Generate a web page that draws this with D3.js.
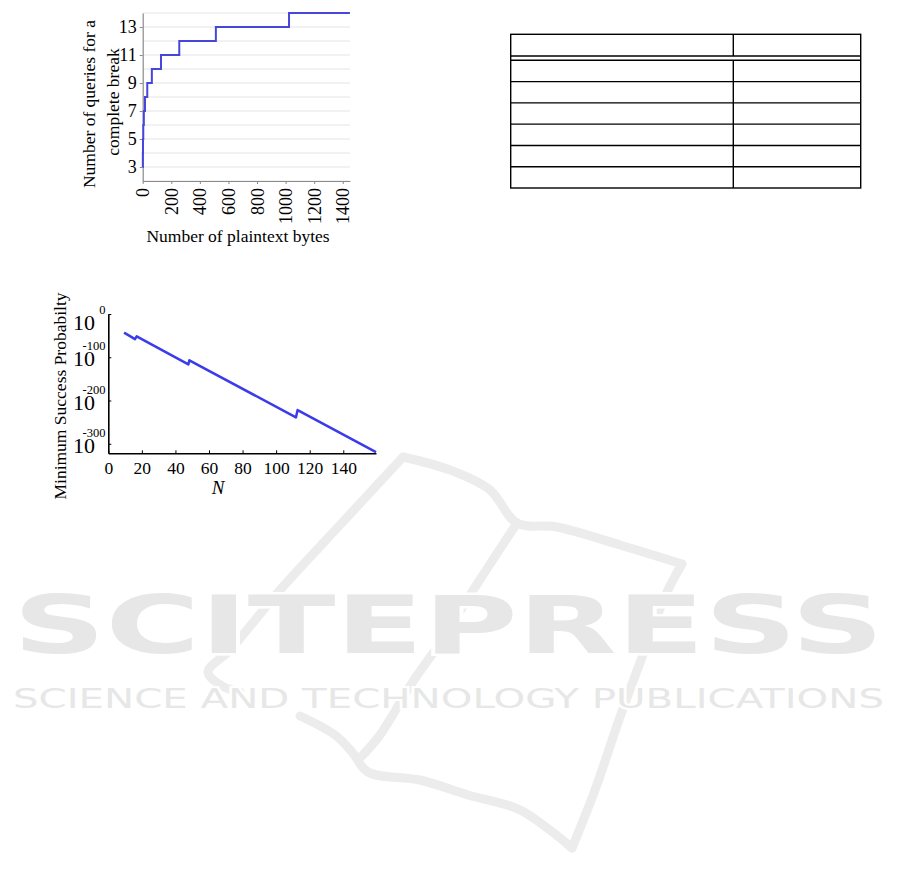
<!DOCTYPE html>
<html><head><meta charset="utf-8">
<script src="https://cdn.jsdelivr.net/npm/d3@7"></script>
<style>body{margin:0;background:#fff} svg{display:block;background:#fff}</style>
</head><body><svg id="c" width="901" height="884"></svg>
<script>
// ---------- Chart 1 data: queries vs plaintext bytes (step) ----------
const bytesBreaks = [0, 1, 2, 4, 8, 16, 32, 64, 128, 256, 512, 1024, 1450];
const queryCounts = [3, 4, 5, 6, 7, 8, 9, 10, 11, 12, 13, 14, 14];
const bytesTicks = [0, 200, 400, 600, 800, 1000, 1200, 1400];
const queryTickLabels = [3, 5, 7, 9, 11, 13];
const queryGridValues = [2, 3, 4, 5, 6, 7, 8, 9, 10, 11, 12, 13, 14];

// ---------- Chart 2 data: minimum success probability vs N ----------
const nValues = [9.4, 15.9, 16.9, 47.7, 48.3, 111.8, 112.8, 159.5];
const log10Prob = [-43, -58, -51.5, -116.5, -107, -239, -222, -319.5];
const nTicks = [0, 20, 40, 60, 80, 100, 120, 140];
const probTickExps = [0, -100, -200, -300];

// ---------- Table (empty cells) ----------
const tableColumns = ["", ""];
const tableRows = [["", ""], ["", ""], ["", ""], ["", ""], ["", ""], ["", ""]];

const serif = "'Liberation Serif','Times New Roman',serif";
const svg = d3.select("#c");

// ---------- Watermark (decoration) ----------
const wm = svg.append("g");
const bookStrokes = [
  [[403,457],[340,525],[280,590],[230,650],[208,672],[222,686],[240,692]],
  [[403,457],[450,470],[490,490],[517,523],[557,527],[620,545],[682,564]],
  [[682,564],[667,592],[641,660],[620,717],[595,790],[572,848]],
  [[517,523],[472,592],[440,643],[412,683],[380,735],[361,757]],
  [[300,716],[335,735],[352,752],[368,772],[420,780],[468,795],[520,810],[572,848]]
];
wm.selectAll("path.book").data(bookStrokes).join("path").attr("class","book")
  .attr("d", d3.line().curve(d3.curveCatmullRom))
  .attr("fill","none").attr("stroke","#ececec").attr("stroke-width",9)
  .attr("stroke-linecap","round").attr("stroke-linejoin","round");
wm.append("text").text("SCITEPRESS")
  .attr("x",13).attr("y",653).attr("textLength",871).attr("lengthAdjust","spacingAndGlyphs")
  .style("font","bold 80px 'DejaVu Sans'").attr("fill","#e6e7e6")
  .attr("stroke","#fff").attr("stroke-width",5).attr("paint-order","stroke");
wm.append("text").text("SCIENCE AND TECHNOLOGY PUBLICATIONS")
  .attr("x",13).attr("y",708).attr("textLength",871).attr("lengthAdjust","spacingAndGlyphs")
  .style("font","27px 'DejaVu Sans'").attr("fill","#e6e7e6")
  .attr("stroke","#fff").attr("stroke-width",4).attr("paint-order","stroke");

// ---------- Chart 1 ----------
const x1 = d3.scaleLinear().domain([0, 1450]).range([142.7, 349.9]);
const y1 = d3.scaleLinear().domain([2, 14]).range([181, 13]);
const g1 = svg.append("g");
g1.selectAll("line.grid").data(queryGridValues).join("line").attr("class","grid")
  .attr("x1", x1(0)).attr("x2", x1(1450))
  .attr("y1", d => y1(d)).attr("y2", d => y1(d))
  .attr("stroke","#e4e4e4").attr("stroke-width",1);

const ax1y = g1.append("g").attr("transform",`translate(${x1(0)},0)`)
  .call(d3.axisLeft(y1).tickValues(queryTickLabels).tickFormat(d3.format("d"))
    .tickSizeInner(3).tickSizeOuter(0).tickPadding(3));
const ax1x = g1.append("g").attr("transform",`translate(0,${y1(2)})`)
  .call(d3.axisBottom(x1).tickValues(bytesTicks).tickFormat(d3.format("d"))
    .tickSizeInner(3).tickSizeOuter(0));
[ax1y, ax1x].forEach(a => {
  a.select(".domain").attr("stroke","#8a8a8a").attr("stroke-width",1.2);
  a.selectAll(".tick line").attr("stroke","#8a8a8a");
  a.selectAll("text").style("font",`18px ${serif}`).attr("fill","#000");
});
ax1x.selectAll(".tick text")
  .attr("transform","rotate(-90)").attr("text-anchor","end")
  .attr("x",-7).attr("y",0).attr("dy","0.34em");

const stepLine = d3.line().curve(d3.curveStepAfter)
  .x((d,i) => x1(bytesBreaks[i])).y(d => y1(d));
g1.append("path").datum(queryCounts).attr("d", stepLine)
  .attr("fill","none").attr("stroke","#4646dc").attr("stroke-width",2);

g1.append("text").text("Number of plaintext bytes")
  .attr("x",238).attr("y",242).attr("text-anchor","middle").style("font",`17.5px ${serif}`);
g1.append("text").text("Number of queries for a")
  .attr("transform","translate(95,104) rotate(-90)").attr("text-anchor","middle").style("font",`17.5px ${serif}`);
g1.append("text").text("complete break")
  .attr("transform","translate(119,102) rotate(-90)").attr("text-anchor","middle").style("font",`17.5px ${serif}`);

// ---------- Chart 2 ----------
const x2 = d3.scaleLinear().domain([0, 159.5]).range([108.3, 376]);
const y2 = d3.scaleLog().domain([1, Math.pow(10, -322)]).range([314, 453.3]);
const g2 = svg.append("g");
const ax2y = g2.append("g").attr("transform",`translate(${x2(0)},0)`)
  .call(d3.axisLeft(y2).tickValues(probTickExps.map(e => Math.pow(10, e)))
    .tickSizeInner(-3).tickSizeOuter(0).tickFormat(""));
const ax2x = g2.append("g").attr("transform",`translate(0,${y2.range()[1]})`)
  .call(d3.axisBottom(x2).tickValues(nTicks).tickSizeInner(-3).tickSizeOuter(0).tickPadding(8));
[ax2y, ax2x].forEach(a => {
  a.select(".domain").attr("stroke","#000").attr("stroke-width",1.6);
  a.selectAll(".tick line").attr("stroke","#000");
  a.selectAll("text").style("font",`17.5px ${serif}`).attr("fill","#000");
});
// y tick labels: "10" with a superscript exponent, one text element per tick
const baseY = e => Math.max(y2(Math.pow(10, e)) + 9, 330);
const yl = g2.append("g").selectAll("text").data(probTickExps).join("text")
  .attr("text-anchor","end").attr("fill","#000");
yl.append("tspan").text("10").attr("x",95).attr("y", e => baseY(e))
  .style("font",`22px ${serif}`);
yl.append("tspan").text(e => e === 0 ? "0" : "-" + Math.abs(e))
  .attr("x",105.5).attr("y", e => baseY(e) - 16)
  .style("font",`12.5px ${serif}`);

const probLine = d3.line().x((d,i) => x2(nValues[i])).y(d => y2(Math.pow(10, d)));
g2.append("path").datum(log10Prob).attr("d", probLine)
  .attr("fill","none").attr("stroke","#3b3bea").attr("stroke-width",2.5)
  .attr("stroke-linejoin","round");

g2.append("text").text("N").attr("x",218).attr("y",494).attr("text-anchor","middle")
  .style("font",`italic 19px ${serif}`);
g2.append("text").text("Minimum Success Probabilty")
  .attr("transform","translate(66,396) rotate(-90)").attr("text-anchor","middle")
  .style("font",`17.5px ${serif}`);

// ---------- Table ----------
const tg = svg.append("g").attr("stroke","#000").attr("stroke-width",1.4).attr("fill","none");
const tx = d3.scaleLinear().domain([0, 1]).range([510.7, 860.7]);
const colSplit = 0.636;
const headTop = 34.3, headBottom = 56, bodyTop = 60.3;
const ty = d3.scaleLinear().domain([0, tableRows.length]).range([bodyTop, 188]);
tg.append("rect").attr("x",tx(0)).attr("y",headTop).attr("width",tx(1)-tx(0)).attr("height",ty(tableRows.length)-headTop);
tg.selectAll("line.hd").data([headBottom, bodyTop]).join("line").attr("class","hd")
  .attr("x1",tx(0)).attr("x2",tx(1)).attr("y1",d=>d).attr("y2",d=>d);
tg.selectAll("line.row").data(tableRows.slice(1)).join("line").attr("class","row")
  .attr("x1",tx(0)).attr("x2",tx(1)).attr("y1",(d,i)=>ty(i+1)).attr("y2",(d,i)=>ty(i+1));
tg.append("line").attr("x1",tx(colSplit)).attr("x2",tx(colSplit)).attr("y1",headTop).attr("y2",headBottom);
tg.append("line").attr("x1",tx(colSplit)).attr("x2",tx(colSplit)).attr("y1",bodyTop).attr("y2",ty(tableRows.length));
</script>
</body></html>
